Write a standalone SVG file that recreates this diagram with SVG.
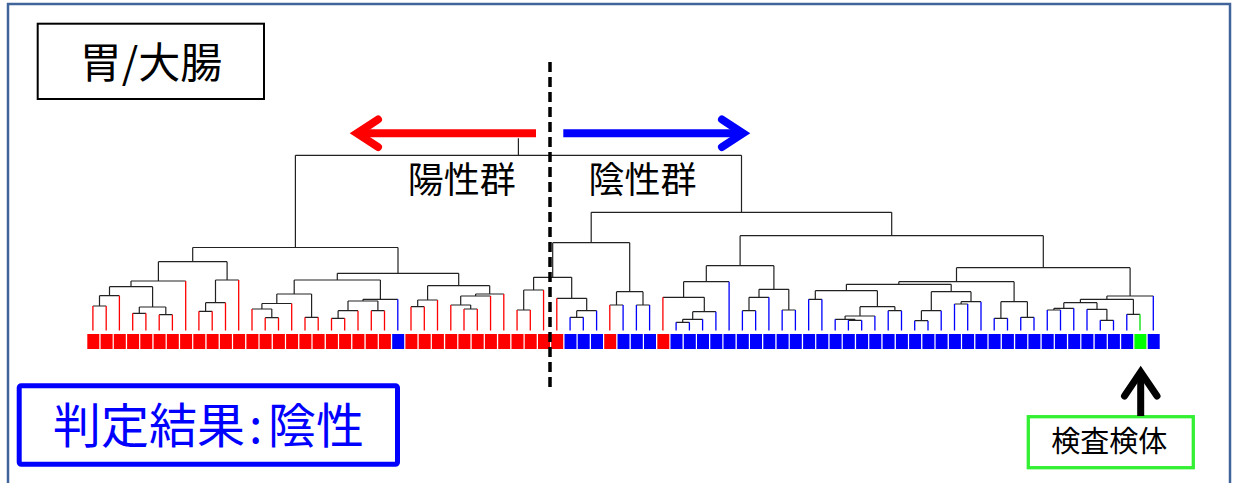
<svg xmlns="http://www.w3.org/2000/svg" width="1233" height="483" viewBox="0 0 1233 483">
<style>
.t{font-family:"Noto Sans CJK JP","Noto Sans CJK SC",sans-serif}
.lnk{fill:none;stroke:#222;stroke-width:1.2}
.sr{stroke:#FF0000;stroke-width:1.3}
.sb{stroke:#0000FF;stroke-width:1.3}
.sg{stroke:#00E000;stroke-width:1.3}
.qr{fill:#FF0000}
.qb{fill:#0000FF}
.qg{fill:#00FF00}
</style>
<rect x="0" y="0" width="1233" height="483" fill="#fff"/>
<rect x="8" y="4" width="1222" height="500" fill="none" stroke="#41659A" stroke-width="2.5"/>

<g id="title">
<rect x="37.7" y="23.7" width="226.3" height="75.3" fill="none" stroke="#000" stroke-width="2"/>
<text class="t" x="151" y="78" font-size="42" text-anchor="middle">胃/大腸</text>
</g>

<g id="arrow-positive">
<path d="M536 133.3H357" stroke="#FF0000" stroke-width="8" fill="none"/>
<path d="M378 119.5L357 133.3L378 147" stroke="#FF0000" stroke-width="8" fill="none" stroke-linecap="round" stroke-linejoin="miter"/>
</g>
<g id="arrow-negative">
<path d="M563.3 133.3H743" stroke="#0000FF" stroke-width="8" fill="none"/>
<path d="M722 119.5L743 133.3L722 147" stroke="#0000FF" stroke-width="8" fill="none" stroke-linecap="round" stroke-linejoin="miter"/>
</g>

<g id="label-positive"><text class="t" x="461.7" y="193" font-size="36" text-anchor="middle">陽性群</text></g>
<g id="label-negative"><text class="t" x="642.5" y="193" font-size="36" text-anchor="middle">陰性群</text></g>

<g id="connectors">
<path class="lnk" d="
M92.9 306H106.2M99.5 306V295.7
M99.5 295.7H119.4M109.5 295.7V286.7
M132.7 313.3H145.9M139.3 313.3V307
M159.2 314.7H172.4M165.8 314.7V307
M139.3 307H165.8M152.6 307V286.7
M109.5 286.7H152.6M131 286.7V281
M131 281H185.7M158.4 281V261.7
M198.9 311.3H212.2M205.6 311.3V302.7
M205.6 302.7H225.5M215.5 302.7V280
M215.5 280H238.7M227.1 280V261.7
M158.4 261.7H227.1M192.7 261.7V247.5
M265.2 317.7H278.5M271.8 317.7V309
M252 309H271.8M261.9 309V303.5
M261.9 303.5H291.7M276.8 303.5V294
M305 317.3H318.2M311.6 317.3V294
M276.8 294H311.6M294.2 294V280
M331.5 318.3H344.7M338.1 318.3V310.7
M338.1 310.7H358M348 310.7V301
M371.3 310.7H384.5M377.9 310.7V301
M348 301H377.9M363 301V299.3
M363 299.3H397.8M380.4 299.3V280
M294.2 280H380.4M337.3 280V273.3
M411 306.7H424.3M417.7 306.7V300
M417.7 300H437.5M427.6 300V285.7
M464 309H477.3M470.7 309V305
M450.8 305H470.7M460.7 305V296
M460.7 296H490.55M475.6 296V294
M475.6 294H503.8M489.7 294V285.7
M427.6 285.7H489.7M458.7 285.7V273.3
M337.3 273.3H458.7M398 273.3V247.5
M192.7 247.5H398M295.4 247.5V155.3
M517.06 310H530.3M523.7 310V290
M523.7 290H543.57M533.6 290V277.3
M570.08 317.3H583.3M576.7 317.3V310.7
M576.7 310.7H596.6M586.7 310.7V298.3
M556.8 298.3H586.7M571.7 298.3V277.3
M533.6 277.3H571.7M552.7 277.3V242.7
M609.8 305H623.1M616.5 305V291.7
M636.4 305H649.6M643 305V291.7
M616.5 291.7H643M629.7 291.7V242.7
M552.7 242.7H629.7M591.2 242.7V212.3
M676.1 322.3H689.4M682.7 322.3V319.3
M682.7 319.3H702.6M692.7 319.3V311.7
M692.7 311.7H715.9M704.3 311.7V297.3
M662.9 297.3H704.3M683.6 297.3V281.7
M683.6 281.7H729.1M706.3 281.7V265.7
M742.4 310.7H755.65M749 310.7V297.3
M749 297.3H768.9M759 297.3V289.3
M782.16 310H795.4M788.8 310V289.3
M759 289.3H788.8M773.9 289.3V265.7
M706.3 265.7H773.9M740.1 265.7V235.7
M808.67 299.3H821.9M815.3 299.3V290.7
M848.4 320.3H861.69M855 320.3V319.3
M835.18 319.3H855M845.1 319.3V316
M845.1 316H874.9M860 316V306.7
M888.2 310.7H901.5M894.9 310.7V306.7
M860 306.7H894.9M877.4 306.7V290.7
M815.3 290.7H877.4M846.4 290.7V284.3
M914.7 320.7H928M921.4 320.7V310.7
M921.4 310.7H941.2M931.3 310.7V291.7
M954.5 304H967.7M961.1 304V301.7
M961.1 301.7H981M971 301.7V291.7
M931.3 291.7H971M951.2 291.7V284.3
M846.4 284.3H951.2M898.8 284.3V281.7
M994.2 318.3H1007.5M1000.9 318.3V301.7
M1020.75 317.3H1034M1027.4 317.3V301.7
M1000.9 301.7H1027.4M1014.1 301.7V281.7
M898.8 281.7H1014.1M956.5 281.7V267.7
M1047.26 310H1060.5M1053.9 310V308.3
M1053.9 308.3H1073.77M1063.8 308.3V302.7
M1100.28 320.3H1113.5M1106.9 320.3V309.3
M1087 309.3H1106.9M1097 309.3V302.7
M1063.8 302.7H1097M1080.4 302.7V299.3
M1126.79 314.3H1140M1133.4 314.3V299.3
M1080.4 299.3H1133.4M1106.9 299.3V296
M1106.9 296H1153.3M1130.1 296V267.7
M956.5 267.7H1130.1M1043.3 267.7V235.7
M740.1 235.7H1043.3M891.7 235.7V212.3
M591.2 212.3H891.7M741.5 212.3V155.3
M295.4 155.3H741.5M518.4 155.3V138.3"/>
<g id="leaf-stems">
<path class="sr" d="M92.9 330.5V306M106.2 330.5V306M119.4 330.5V295.7M132.7 330.5V313.3M145.9 330.5V313.3M159.2 330.5V314.7M172.4 330.5V314.7M185.7 330.5V281M198.9 330.5V311.3M212.2 330.5V311.3M225.5 330.5V302.7M238.7 330.5V280M252 330.5V309M265.2 330.5V317.7M278.5 330.5V317.7M291.7 330.5V303.5M305 330.5V317.3M318.2 330.5V317.3M331.5 330.5V318.3M344.7 330.5V318.3M358 330.5V310.7M371.3 330.5V310.7M384.5 330.5V310.7M411 330.5V306.7M424.3 330.5V306.7M437.5 330.5V300M450.8 330.5V305M464 330.5V309M477.3 330.5V309M490.55 330.5V296M503.8 330.5V294M517.06 330.5V310M530.3 330.5V310M543.57 330.5V290M556.8 330.5V298.3M609.8 330.5V305M662.9 330.5V297.3"/>
<path class="sb" d="M397.8 330.5V299.3M570.08 330.5V317.3M583.3 330.5V317.3M596.6 330.5V310.7M623.1 330.5V305M636.4 330.5V305M649.6 330.5V305M676.1 330.5V322.3M689.4 330.5V322.3M702.6 330.5V319.3M715.9 330.5V311.7M729.1 330.5V281.7M742.4 330.5V310.7M755.65 330.5V310.7M768.9 330.5V297.3M782.16 330.5V310M795.4 330.5V310M808.67 330.5V299.3M821.9 330.5V299.3M835.18 330.5V319.3M848.4 330.5V320.3M861.69 330.5V320.3M874.9 330.5V316M888.2 330.5V310.7M901.5 330.5V310.7M914.7 330.5V320.7M928 330.5V320.7M941.2 330.5V310.7M954.5 330.5V304M967.7 330.5V304M981 330.5V301.7M994.2 330.5V318.3M1007.5 330.5V318.3M1020.75 330.5V317.3M1034 330.5V317.3M1047.26 330.5V310M1060.5 330.5V310M1073.77 330.5V308.3M1087 330.5V309.3M1100.28 330.5V320.3M1113.5 330.5V320.3M1126.79 330.5V314.3M1153.3 330.5V296"/>
<path class="sg" d="M1140 330.5V314.3"/>
</g>
</g>

<g id="samples">
<g class="qr">
<rect x="87.3" y="334" width="12" height="15"/><rect x="100.6" y="334" width="12" height="15"/><rect x="113.8" y="334" width="12" height="15"/><rect x="127.1" y="334" width="12" height="15"/><rect x="140.3" y="334" width="12" height="15"/><rect x="153.6" y="334" width="12" height="15"/><rect x="166.8" y="334" width="12" height="15"/><rect x="180.1" y="334" width="12" height="15"/><rect x="193.3" y="334" width="12" height="15"/><rect x="206.6" y="334" width="12" height="15"/><rect x="219.9" y="334" width="12" height="15"/><rect x="233.1" y="334" width="12" height="15"/><rect x="246.4" y="334" width="12" height="15"/><rect x="259.6" y="334" width="12" height="15"/><rect x="272.9" y="334" width="12" height="15"/><rect x="286.1" y="334" width="12" height="15"/><rect x="299.4" y="334" width="12" height="15"/><rect x="312.6" y="334" width="12" height="15"/><rect x="325.9" y="334" width="12" height="15"/><rect x="339.1" y="334" width="12" height="15"/><rect x="352.4" y="334" width="12" height="15"/><rect x="365.7" y="334" width="12" height="15"/><rect x="378.9" y="334" width="12" height="15"/>
<rect x="405.4" y="334" width="12" height="15"/><rect x="418.7" y="334" width="12" height="15"/><rect x="431.9" y="334" width="12" height="15"/><rect x="445.2" y="334" width="12" height="15"/><rect x="458.4" y="334" width="12" height="15"/><rect x="471.7" y="334" width="12" height="15"/><rect x="484.9" y="334" width="12" height="15"/><rect x="498.2" y="334" width="12" height="15"/><rect x="511.5" y="334" width="12" height="15"/><rect x="524.7" y="334" width="12" height="15"/><rect x="538" y="334" width="12" height="15"/><rect x="551.2" y="334" width="12" height="15"/>
<rect x="604.2" y="334" width="12" height="15"/><rect x="657.3" y="334" width="12" height="15"/>
</g>
<g class="qb">
<rect x="392.2" y="334" width="12" height="15"/>
<rect x="564.5" y="334" width="12" height="15"/><rect x="577.7" y="334" width="12" height="15"/><rect x="591" y="334" width="12" height="15"/>
<rect x="617.5" y="334" width="12" height="15"/><rect x="630.8" y="334" width="12" height="15"/><rect x="644" y="334" width="12" height="15"/>
<rect x="670.5" y="334" width="12" height="15"/><rect x="683.8" y="334" width="12" height="15"/><rect x="697" y="334" width="12" height="15"/><rect x="710.3" y="334" width="12" height="15"/><rect x="723.5" y="334" width="12" height="15"/><rect x="736.8" y="334" width="12" height="15"/><rect x="750" y="334" width="12" height="15"/><rect x="763.3" y="334" width="12" height="15"/><rect x="776.6" y="334" width="12" height="15"/><rect x="789.8" y="334" width="12" height="15"/><rect x="803.1" y="334" width="12" height="15"/><rect x="816.3" y="334" width="12" height="15"/><rect x="829.6" y="334" width="12" height="15"/><rect x="842.8" y="334" width="12" height="15"/><rect x="856.1" y="334" width="12" height="15"/><rect x="869.3" y="334" width="12" height="15"/><rect x="882.6" y="334" width="12" height="15"/><rect x="895.9" y="334" width="12" height="15"/><rect x="909.1" y="334" width="12" height="15"/><rect x="922.4" y="334" width="12" height="15"/><rect x="935.6" y="334" width="12" height="15"/><rect x="948.9" y="334" width="12" height="15"/><rect x="962.1" y="334" width="12" height="15"/><rect x="975.4" y="334" width="12" height="15"/><rect x="988.6" y="334" width="12" height="15"/><rect x="1001.9" y="334" width="12" height="15"/><rect x="1015.2" y="334" width="12" height="15"/><rect x="1028.4" y="334" width="12" height="15"/><rect x="1041.7" y="334" width="12" height="15"/><rect x="1054.9" y="334" width="12" height="15"/><rect x="1068.2" y="334" width="12" height="15"/><rect x="1081.4" y="334" width="12" height="15"/><rect x="1094.7" y="334" width="12" height="15"/><rect x="1107.9" y="334" width="12" height="15"/><rect x="1121.2" y="334" width="12" height="15"/>
<rect x="1147.7" y="334" width="12" height="15"/>
</g>
<rect class="qg" x="1134.4" y="334" width="12" height="15"/>
</g>

<g id="divider">
<path d="M550 62V388" stroke="#000" stroke-width="3.5" stroke-dasharray="10 5" fill="none"/>
</g>

<g id="result">
<rect x="19.2" y="385.8" width="378.3" height="78.4" rx="2" fill="none" stroke="#0000FF" stroke-width="5"/>
<text class="t" font-size="48" fill="#0000FF" y="443"><tspan x="53">判定結果</tspan><tspan x="249">:</tspan><tspan x="268">陰性</tspan></text>
</g>

<g id="test-sample">
<rect x="1028.3" y="416.7" width="165" height="51" fill="none" stroke="#33F033" stroke-width="3.3"/>
<text class="t" x="1109.2" y="451.5" font-size="29" text-anchor="middle">検査検体</text>
</g>
<g id="pointer">
<path d="M1140.7 416V376" stroke="#000" stroke-width="7" fill="none"/>
<path d="M1124.5 396L1140.7 372L1157 396" stroke="#000" stroke-width="7" fill="none" stroke-linecap="round" stroke-linejoin="miter"/>
</g>
</svg>
